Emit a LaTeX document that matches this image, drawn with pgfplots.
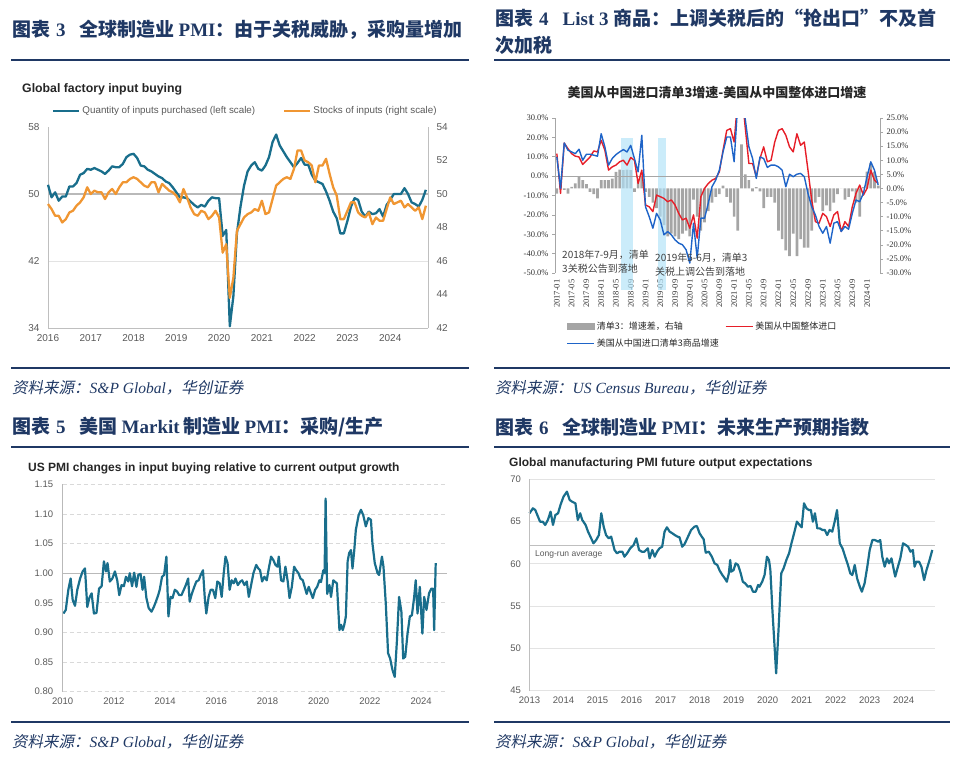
\documentclass[border=0pt]{standalone}
\usepackage{fontspec}
\usepackage{pgfplots}
\pgfplotsset{compat=1.18}
\setmainfont{Liberation Serif}
\setsansfont{Liberation Sans}
\newfontfamily\cjk{Noto Sans CJK SC}
\newfontfamily\cjkit{Noto Sans CJK SC}[FakeSlant=0.2]
\definecolor{hcnavy}{RGB}{31,56,100}
\definecolor{teal1}{RGB}{25,110,140}
\definecolor{orange1}{RGB}{240,150,50}
\definecolor{red2}{RGB}{230,30,40}
\definecolor{blue2}{RGB}{30,100,200}
\definecolor{bar2}{RGB}{165,165,165}
\definecolor{shade2}{RGB}{175,226,248}
\definecolor{tickgray}{RGB}{89,89,89}
\definecolor{titleblk}{RGB}{38,38,38}
\begin{document}
\begin{tikzpicture}
\path[use as bounding box] (0pt,0pt) rectangle (960pt,-760pt);
% ---------- rules ----------
\foreach \yy in {60,368,447,722} {
  \draw[hcnavy, line width=1.6pt] (11pt,-\yy*1pt) -- (469pt,-\yy*1pt);
  \draw[hcnavy, line width=1.6pt] (494pt,-\yy*1pt) -- (950pt,-\yy*1pt);
}
% ---------- headers ----------
\node[anchor=west, inner sep=0pt, text=hcnavy, font=\fontsize{19}{23}\selectfont] at (12pt,-30pt)
 {{\cjk\bfseries 图表}\hspace{6pt}{\bfseries 3}\hspace{14pt}{\cjk\bfseries 全球制造业}\hspace{4pt}{\bfseries PMI}{\cjk\bfseries ：由于关税威胁，采购量增加}};
\node[anchor=west, inner sep=0pt, text=hcnavy, font=\fontsize{19}{23}\selectfont] at (495pt,-18pt)
 {{\cjk\bfseries 图表}\hspace{6pt}{\bfseries 4}\hspace{14pt}{\bfseries List 3 }{\cjk\bfseries 商品：上调关税后的“抢出口”不及首}};
\node[anchor=west, inner sep=0pt, text=hcnavy, font=\fontsize{19}{23}\selectfont] at (495pt,-45pt)
 {{\cjk\bfseries 次加税}};
\node[anchor=west, inner sep=0pt, text=hcnavy, font=\fontsize{19}{23}\selectfont] at (12pt,-427pt)
 {{\cjk\bfseries 图表}\hspace{6pt}{\bfseries 5}\hspace{14pt}{\cjk\bfseries 美国}\hspace{4pt}{\bfseries Markit}\hspace{4pt}{\cjk\bfseries 制造业}\hspace{4pt}{\bfseries PMI}{\cjk\bfseries ：采购/生产}};
\node[anchor=west, inner sep=0pt, text=hcnavy, font=\fontsize{19}{23}\selectfont] at (495pt,-427pt)
 {{\cjk\bfseries 图表}\hspace{6pt}{\bfseries 6}\hspace{14pt}{\cjk\bfseries 全球制造业}\hspace{4pt}{\bfseries PMI}{\cjk\bfseries ：未来生产预期指数}};
% ---------- sources ----------
\node[anchor=west, inner sep=0pt, text=hcnavy, font=\fontsize{15.5}{18}\selectfont] at (12pt,-388pt)
 {{\cjkit 资料来源：}{\itshape S\&P Global}{\cjkit ，华创证券}};
\node[anchor=west, inner sep=0pt, text=hcnavy, font=\fontsize{15.5}{18}\selectfont] at (495pt,-388pt)
 {{\cjkit 资料来源：}{\itshape US Census Bureau}{\cjkit ，华创证券}};
\node[anchor=west, inner sep=0pt, text=hcnavy, font=\fontsize{15.5}{18}\selectfont] at (12pt,-742pt)
 {{\cjkit 资料来源：}{\itshape S\&P Global}{\cjkit ，华创证券}};
\node[anchor=west, inner sep=0pt, text=hcnavy, font=\fontsize{15.5}{18}\selectfont] at (495pt,-742pt)
 {{\cjkit 资料来源：}{\itshape S\&P Global}{\cjkit ，华创证券}};

% =================== PANEL 1 ===================
\node[anchor=west, inner sep=0pt, text=titleblk, font=\fontsize{12.3}{14}\selectfont\sffamily\bfseries] at (22pt,-89pt) {Global factory input buying};
\begin{axis}[at={(48pt,-328pt)}, anchor=south west, scale only axis, width=380pt, height=201pt,
  xmin=0, xmax=106.6, ymin=34, ymax=58, clip=false,
  axis line style={draw=none}, major tick length=0pt,
  xtick={0,12,24,36,48,60,72,84,96}, xticklabels={2016,2017,2018,2019,2020,2021,2022,2023,2024},
  ytick={34,42,50,58}, ytick pos=left,
  tick label style={font=\fontsize{10}{12}\selectfont\sffamily, text=tickgray},
  yticklabel style={xshift=-5pt}, xticklabel style={yshift=-3pt},
  /pgf/number format/assume math mode=true]
\draw[gray!22, line width=0.8pt] (axis cs:0,42) -- (axis cs:106.6,42);
\draw[gray!55, line width=1.3pt] (axis cs:0,50) -- (axis cs:106.6,50);
\draw[gray!50, line width=1pt] (rel axis cs:0,0) -- (rel axis cs:0,1);
\draw[gray!50, line width=1pt] (rel axis cs:0,0) -- (rel axis cs:1,0);
\draw[gray!50, line width=1pt] (rel axis cs:1,0) -- (rel axis cs:1,1);
\addplot[teal1, line width=2.3pt, line join=round] coordinates {
(0,51.1) (1,49.6) (2,50.2) (3,49.2) (4,49.7) (5,49.7) (6,50.9) (7,50.9) (8,51.3) (9,52.3)
(10,52.5) (11,53.0) (12,52.9) (13,53.1) (14,52.9) (15,52.7) (16,52.4) (17,52.8) (18,53.3) (19,53.2)
(20,53.2) (21,53.6) (22,54.4) (23,54.7) (24,54.8) (25,54.3) (26,53.4) (27,53.3) (28,52.9) (29,52.7)
(30,52.4) (31,52.1) (32,51.9) (33,51.5) (34,51.3) (35,50.8) (36,50.2) (37,49.6) (38,49.6) (39,49.5)
(40,49.1) (41,48.7) (42,48.4) (43,48.7) (44,48.5) (45,49.2) (46,49.6) (47,49.5) (48,49.5) (49,45.0)
(50,45.7) (51,34.2) (52,37.8) (53,45.3) (54,48.5) (55,51.0) (56,52.7) (57,53.4) (58,53.8) (59,53.0)
(60,52.8) (61,53.4) (62,54.4) (63,56.2) (64,57.1) (65,55.8) (66,55.1) (67,54.4) (68,53.8) (69,53.2)
(70,53.7) (71,54.3) (72,53.5) (73,53.5) (74,52.3) (75,51.6) (76,51.4) (77,51.2) (78,50.3) (79,49.2)
(80,47.9) (81,47.1) (82,45.3) (83,45.3) (84,46.8) (85,48.5) (86,49.5) (87,49.3) (88,47.9) (89,47.3)
(90,47.9) (91,47.6) (92,47.7) (93,48.2) (94,47.3) (95,48.7) (96,49.3) (97,50.0) (98,50.0) (99,50.0)
(100,50.7) (101,50.0) (102,49.0) (103,48.8) (104,48.5) (105,49.3) (106,50.5)};
\end{axis}
\begin{axis}[at={(48pt,-328pt)}, anchor=south west, scale only axis, width=380pt, height=201pt,
  xmin=0, xmax=106.6, ymin=42, ymax=54, clip=false,
  axis line style={draw=none}, major tick length=0pt,
  xtick=\empty, ytick={42,44,46,48,50,52,54}, ytick pos=right, yticklabel pos=right,
  tick label style={font=\fontsize{10}{12}\selectfont\sffamily, text=tickgray},
  yticklabel style={xshift=5pt},
  /pgf/number format/assume math mode=true,
  legend columns=2, legend cell align=left,
  legend image code/.code={\draw[#1] (0pt,0pt) -- (26pt,0pt);},
  legend style={draw=none, fill=none, at={(0.01,1.08)}, anchor=west, inner sep=0pt,
    font=\fontsize{9.8}{11}\selectfont\sffamily, text=tickgray,
    /tikz/every even column/.append style={column sep=26pt}}]
\addlegendimage{teal1, line width=2.5pt}
\addlegendentry{Quantity of inputs purchased (left scale)}
\addplot[orange1, line width=2.3pt, line join=round] coordinates {
(0,49.4) (1,49.1) (2,48.7) (3,48.7) (4,48.3) (5,48.5) (6,48.9) (7,49.0) (8,49.3) (9,49.5)
(10,49.8) (11,50.4) (12,50.0) (13,50.2) (14,50.1) (15,50.1) (16,49.7) (17,50.1) (18,50.3) (19,50.0)
(20,50.4) (21,50.7) (22,50.7) (23,50.9) (24,51.0) (25,50.9) (26,50.7) (27,50.5) (28,50.4) (29,50.7)
(30,50.7) (31,50.1) (32,50.6) (33,50.4) (34,50.2) (35,50.1) (36,49.9) (37,49.5) (38,50.3) (39,49.8)
(40,49.2) (41,48.8) (42,48.7) (43,49.0) (44,48.9) (45,48.5) (46,48.7) (47,49.0) (48,48.6) (49,46.5)
(50,47.0) (51,43.8) (52,45.0) (53,47.8) (54,48.2) (55,48.6) (56,48.8) (57,48.9) (58,49.1) (59,49.0)
(60,49.6) (61,48.8) (62,48.9) (63,49.7) (64,50.5) (65,50.7) (66,50.9) (67,51.0) (68,50.9) (69,51.5)
(70,52.6) (71,52.6) (72,52.0) (73,51.9) (74,51.7) (75,50.7) (76,51.7) (77,51.7) (78,52.1) (79,51.2)
(80,50.4) (81,49.9) (82,48.5) (83,48.5) (84,49.0) (85,49.5) (86,49.5) (87,48.9) (88,48.7) (89,48.6)
(90,48.9) (91,48.2) (92,48.6) (93,48.4) (94,48.4) (95,49.1) (96,49.8) (97,49.4) (98,49.5) (99,49.6)
(100,49.2) (101,49.4) (102,49.2) (103,49.0) (104,49.2) (105,48.5) (106,49.3)};
\addlegendentry{Stocks of inputs (right scale)}
\end{axis}

% =================== PANEL 2 ===================
\node[inner sep=0pt, font=\cjk\bfseries\fontsize{13}{15}\selectfont, text=black!85] at (717pt,-93pt) {美国从中国进口清单3增速-美国从中国整体进口增速};
\begin{axis}[at={(555pt,-273pt)}, anchor=south west, scale only axis, width=325pt, height=155pt,
  xmin=-0.5, xmax=87.5, ymin=-30, ymax=25, clip=false,
  axis line style={draw=none},
  xtick={0,4,...,84},
  xticklabels={2017-01,2017-05,2017-09,2018-01,2018-05,2018-09,2019-01,2019-05,2019-09,2020-01,2020-05,2020-09,2021-01,2021-05,2021-09,2022-01,2022-05,2022-09,2023-01,2023-05,2023-09,2024-01},
  xtick style={draw=none}, xtick pos=bottom,
  xticklabel style={rotate=90, anchor=east, font=\fontsize{8.5}{10}\selectfont, text=black!80},
  ytick={-30,-25,...,25},
  yticklabels={-30.0\%,-25.0\%,-20.0\%,-15.0\%,-10.0\%,-5.0\%,0.0\%,5.0\%,10.0\%,15.0\%,20.0\%,25.0\%},
  ytick pos=right, yticklabel pos=right, tick align=outside, major tick length=3pt,
  ytick style={gray!70, line width=0.6pt},
  yticklabel style={font=\fontsize{8.5}{10}\selectfont, text=black!80}]
\addplot[ybar, bar width=2.7pt, fill=bar2, draw=none] coordinates {
(0,-1.8) (1,3.0) (2,-0.5) (3,-1.8) (4,0.6) (5,1.8) (6,4.4) (7,3.0) (8,1.5) (9,-1.2)
(10,-2.0) (11,-3.5) (12,3.0) (13,3.0) (14,3.0) (15,3.5) (16,5.9) (17,6.7) (18,6.5) (19,6.7)
(20,6.5) (21,-1.2) (22,3.0) (23,4.0) (24,-1.2) (25,-3.0) (26,-5.0) (27,-7.0) (28,-10.0) (29,-13.0)
(30,-17.0) (31,-16.0) (32,-17.0) (33,-18.0) (34,-16.0) (35,-15.0) (36,-17.0) (37,-4.0) (38,-10.0) (39,-15.0)
(40,-12.0) (41,-8.0) (42,-5.0) (43,-3.0) (44,-2.0) (45,1.0) (46,-3.0) (47,-5.0) (48,-10.0) (49,-15.0)
(50,15.6) (51,5.0) (52,3.0) (53,-1.0) (54,0.5) (55,-1.0) (56,-7.0) (57,-3.0) (58,-3.0) (59,-5.0)
(60,-15.0) (61,-18.0) (62,-22.0) (63,-24.0) (64,-16.0) (65,-24.0) (66,-18.0) (67,-21.0) (68,-21.0) (69,-15.0)
(70,-5.0) (71,-3.0) (72,-8.0) (73,-6.0) (74,-8.0) (75,-5.0) (76,-2.0) (77,0.0) (78,-4.0) (79,-3.0)
(80,-1.0) (81,-5.0) (82,-10.0) (83,0.5) (84,6.0) (85,9.0) (86,6.0) (87,1.0)};
\fill[shade2, fill opacity=0.65] (axis cs:17.5,17.9) rectangle (axis cs:20.5,-36);
\fill[shade2, fill opacity=0.65] (axis cs:27.5,17.9) rectangle (axis cs:29.5,-36);
\end{axis}
\begin{axis}[at={(555pt,-273pt)}, anchor=south west, scale only axis, width=325pt, height=155pt,
  xmin=-0.5, xmax=87.5, ymin=-50, ymax=30,
  axis line style={draw=none}, xtick=\empty,
  ytick={-50,-40,...,30},
  yticklabels={-50.0\%,-40.0\%,-30.0\%,-20.0\%,-10.0\%,0.0\%,10.0\%,20.0\%,30.0\%},
  ytick pos=left, tick align=outside, major tick length=3pt,
  ytick style={gray!70, line width=0.6pt},
  yticklabel style={font=\fontsize{8.5}{10}\selectfont, text=black!80},
  legend columns=2, legend cell align=left,
  legend image code/.code={\draw[#1] (0pt,0pt) -- (27pt,0pt);},
  legend style={draw=none, fill=none, at={(0.035,-0.30)}, anchor=north west, inner sep=0pt,
    font=\cjk\fontsize{9}{11}\selectfont, text=black!85, row sep=4pt,
    /tikz/every even column/.append style={column sep=4pt}}]
\draw[gray!70, line width=0.8pt] (axis cs:-0.5,0) -- (axis cs:87.5,0);
\addlegendimage{legend image code/.code={\fill[bar2] (0pt,-3pt) rectangle (27pt,3pt);}}
\addlegendentry{清单3：增速差，右轴}
\addplot[red2, line width=1.4pt, line join=round] coordinates {
(0,11.6) (1,-8.9) (2,17.1) (3,14.2) (4,11.6) (5,10.3) (6,9.9) (7,6.0) (8,7.9) (9,9.9)
(10,13.0) (11,12.5) (12,18.5) (13,13.4) (14,3.1) (15,4.8) (16,5.7) (17,7.4) (18,8.2) (19,5.7)
(20,9.6) (21,8.2) (22,-3.8) (23,3.1) (24,-14.9) (25,-15.8) (26,-18.3) (27,-9.8) (28,-10.6) (29,-11.5)
(30,-13.2) (31,-12.3) (32,-14.9) (33,-19.2) (34,-22.6) (35,-21.7) (36,-26.9) (37,-20.0) (38,-32.0) (39,-10.6)
(40,-6.3) (41,-3.8) (42,-2.1) (43,-1.2) (44,2.2) (45,13.4) (46,23.6) (47,24.5) (48,17.6) (49,40.0)
(50,45.0) (51,25.3) (52,6.5) (53,6.5) (54,-0.3) (55,9.1) (56,15.1) (57,7.4) (58,8.2) (59,17.6)
(60,23.6) (61,24.5) (62,21.1) (63,15.1) (64,12.5) (65,21.9) (66,15.9) (67,17.6) (68,3.1) (69,-12.3)
(70,-23.5) (71,-24.3) (72,-19.2) (73,-20.9) (74,-26.0) (75,-20.0) (76,-18.3) (77,-28.6) (78,-23.5) (79,-26.0)
(80,-15.8) (81,-8.9) (82,-4.6) (83,-9.8) (84,-6.3) (85,3.1) (86,-2.1) (87,-3.8)};
\addlegendentry{美国从中国整体进口}
\addplot[blue2, line width=1.4pt, line join=round] coordinates {
(0,9.9) (1,-6.3) (2,17.1) (3,13.4) (4,12.5) (5,11.6) (6,13.9) (7,8.2) (8,11.3) (9,11.3)
(10,10.8) (11,10.3) (12,21.9) (13,15.1) (14,5.7) (15,9.1) (16,11.1) (17,12.5) (18,13.7) (19,12.5)
(20,15.9) (21,9.1) (22,2.2) (23,21.1) (24,-15.8) (25,-20.9) (26,-26.9) (27,-19.2) (28,-22.6) (29,-30.3)
(30,-28.6) (31,-30.3) (32,-32.9) (33,-34.6) (34,-35.4) (35,-38.0) (36,-44.9) (37,-24.3) (38,-42.3) (39,-21.7)
(40,-21.7) (41,-14.0) (42,-5.5) (43,-2.1) (44,3.1) (45,12.5) (46,20.2) (47,20.2) (48,7.4) (49,38.0)
(50,42.0) (51,29.6) (52,15.1) (53,9.1) (54,-1.2) (55,9.9) (56,9.1) (57,4.5) (58,5.7) (59,5.7)
(60,4.8) (61,3.1) (62,-5.5) (63,1.0) (64,-0.3) (65,1.0) (66,1.4) (67,-0.3) (68,-8.9) (69,-15.8)
(70,-20.0) (71,-26.0) (72,-29.5) (73,-26.0) (74,-34.6) (75,-24.3) (76,-23.5) (77,-28.6) (78,-26.0) (79,-27.4)
(80,-19.2) (81,-12.3) (82,-13.2) (83,-8.9) (84,-0.3) (85,7.4) (86,3.1) (87,-4.6)};
\addlegendentry{美国从中国进口清单3商品增速}
\end{axis}
\draw[gray!70, line width=0.7pt] (555pt,-118pt) -- (555pt,-273pt);
\draw[gray!70, line width=0.7pt] (880pt,-118pt) -- (880pt,-273pt);
\node[anchor=west, inner sep=0pt, font=\cjk\fontsize{10}{12}\selectfont, text=black!75] at (562pt,-255pt) {2018年7-9月，清单};
\node[anchor=west, inner sep=0pt, font=\cjk\fontsize{10}{12}\selectfont, text=black!75] at (562pt,-269pt) {3关税公告到落地};
\node[anchor=west, inner sep=0pt, font=\cjk\fontsize{10}{12}\selectfont, text=black!75] at (655pt,-258pt) {2019年5-6月，清单3};
\node[anchor=west, inner sep=0pt, font=\cjk\fontsize{10}{12}\selectfont, text=black!75] at (655pt,-272pt) {关税上调公告到落地};

% =================== PANEL 3 ===================
\node[anchor=west, inner sep=0pt, text=titleblk, font=\fontsize{12}{14}\selectfont\sffamily\bfseries] at (28pt,-468pt) {US PMI changes in input buying relative to current output growth};
\begin{axis}[at={(62.7pt,-691.7pt)}, anchor=south west, scale only axis, width=384pt, height=207.4pt,
  xmin=2010, xmax=2025, ymin=0.8, ymax=1.15, clip=false,
  axis line style={draw=none}, major tick length=0pt,
  xtick={2010,2012,2014,2016,2018,2020,2022,2024}, xticklabels={2010,2012,2014,2016,2018,2020,2022,2024},
  ytick={0.8,0.85,0.9,0.95,1.05,1.1,1.15}, extra y ticks={1},
  ymajorgrids, grid style={gray!30, dash pattern=on 4pt off 3pt, line width=0.8pt},
  extra y tick style={grid=major, grid style={solid, gray!55, line width=1.1pt}},
  tick label style={font=\fontsize{9.5}{11}\selectfont\sffamily, text=tickgray},
  yticklabel style={xshift=-6pt}, xticklabel style={yshift=-3pt},
  /pgf/number format/fixed, /pgf/number format/fixed zerofill, /pgf/number format/precision=2,
  /pgf/number format/assume math mode=true]
\addplot[teal1, line width=2.2pt, line join=round] coordinates {
(2010.03,0.932) (2010.12,0.938) (2010.22,0.972) (2010.31,0.991) (2010.39,0.955) (2010.48,0.945)
(2010.57,0.972) (2010.68,0.991) (2010.78,1.003) (2010.87,1.008) (2010.96,0.943) (2011.04,0.958)
(2011.13,0.966) (2011.22,0.932) (2011.32,0.933) (2011.42,0.974) (2011.52,0.978) (2011.61,1.020)
(2011.69,1.003) (2011.75,1.017) (2011.84,0.986) (2011.94,0.991) (2012.04,1.003) (2012.13,0.988)
(2012.21,0.963) (2012.30,0.980) (2012.39,0.978) (2012.47,0.994) (2012.56,0.986) (2012.62,1.000)
(2012.71,0.978) (2012.79,1.001) (2012.88,0.977) (2012.95,0.997) (2013.04,0.999) (2013.12,0.972)
(2013.18,0.994) (2013.27,0.958) (2013.36,0.941) (2013.47,0.935) (2013.56,0.943) (2013.64,0.952)
(2013.73,0.963) (2013.79,0.972) (2013.88,0.994) (2013.96,0.997) (2014.05,1.028) (2014.13,0.927)
(2014.21,0.960) (2014.29,0.958) (2014.38,0.972) (2014.47,0.969) (2014.55,0.963) (2014.64,0.963)
(2014.73,0.972) (2014.81,0.980) (2014.90,0.991) (2014.96,0.952) (2015.05,0.966) (2015.14,0.977)
(2015.22,0.986) (2015.31,0.988) (2015.39,0.997) (2015.48,1.005) (2015.55,0.958) (2015.61,0.932)
(2015.70,0.960) (2015.78,0.972) (2015.87,0.972) (2015.96,0.958) (2016.04,0.986) (2016.13,0.983)
(2016.21,0.960) (2016.29,1.000) (2016.36,1.028) (2016.44,1.017) (2016.52,0.972) (2016.60,0.988)
(2016.68,0.983) (2016.75,0.991) (2016.84,0.980) (2016.94,0.986) (2017.01,0.988) (2017.10,0.980)
(2017.19,0.986) (2017.27,0.960) (2017.36,0.980) (2017.45,1.000) (2017.56,1.014) (2017.64,1.008)
(2017.71,1.005) (2017.79,0.986) (2017.88,0.994) (2017.97,0.988) (2018.05,1.008) (2018.14,1.028)
(2018.23,1.022) (2018.31,1.014) (2018.39,1.011) (2018.44,1.028) (2018.53,0.988) (2018.62,0.986)
(2018.70,1.011) (2018.79,0.986) (2018.86,0.958) (2018.95,0.977) (2019.04,1.011) (2019.12,1.005)
(2019.21,1.000) (2019.29,0.991) (2019.38,0.988) (2019.47,0.974) (2019.53,0.965) (2019.61,0.977)
(2019.70,0.966) (2019.77,0.958) (2019.86,0.972) (2019.94,0.977) (2020.03,0.988) (2020.09,0.985)
(2020.18,1.005) (2020.23,1.000) (2020.27,1.126) (2020.33,0.965) (2020.42,0.980) (2020.48,0.960)
(2020.57,0.988) (2020.65,0.985) (2020.71,0.983) (2020.81,0.904) (2020.87,0.913) (2020.94,0.904)
(2021.00,0.913) (2021.06,0.927) (2021.13,1.020) (2021.19,1.034) (2021.26,1.039) (2021.32,1.008)
(2021.39,1.039) (2021.45,1.073) (2021.56,1.098) (2021.65,1.107) (2021.74,1.098) (2021.84,1.079)
(2021.94,1.093) (2022.04,1.090) (2022.10,1.050) (2022.19,1.017) (2022.30,1.000) (2022.36,0.997)
(2022.47,1.028) (2022.53,1.011) (2022.62,0.949) (2022.71,0.865) (2022.79,0.856) (2022.88,0.837)
(2022.97,0.825) (2023.05,0.882) (2023.14,0.960) (2023.23,0.935) (2023.30,0.856) (2023.38,0.859)
(2023.47,0.898) (2023.56,0.927) (2023.64,0.929) (2023.73,0.960) (2023.79,0.988) (2023.86,0.932)
(2023.95,0.977) (2024.05,0.898) (2024.12,0.960) (2024.21,0.938) (2024.31,0.966) (2024.40,0.974)
(2024.47,0.974) (2024.51,0.904) (2024.57,1.017)};
\end{axis}
\draw[gray!55, line width=1pt] (62.7pt,-484.3pt) -- (62.7pt,-691.7pt);

% =================== PANEL 4 ===================
\node[anchor=west, inner sep=0pt, text=titleblk, font=\fontsize{12}{14}\selectfont\sffamily\bfseries] at (509pt,-463pt) {Global manufacturing PMI future output expectations};
\begin{axis}[at={(529.5pt,-690.7pt)}, anchor=south west, scale only axis, width=405.5pt, height=211.4pt,
  xmin=2013, xmax=2024.92, ymin=45, ymax=70, clip=false,
  axis line style={draw=none}, major tick length=0pt,
  xtick={2013,2014,2015,2016,2017,2018,2019,2020,2021,2022,2023,2024},
  xticklabels={2013,2014,2015,2016,2017,2018,2019,2020,2021,2022,2023,2024},
  ytick={45,50,55,60,65,70},
  ymajorgrids, grid style={gray!22, line width=0.8pt},
  tick label style={font=\fontsize{9.5}{11}\selectfont\sffamily, text=tickgray},
  yticklabel style={xshift=-5pt}, xticklabel style={yshift=-3pt},
  /pgf/number format/assume math mode=true]
\draw[gray!50, line width=1.2pt] (axis cs:2013,62.2) -- (axis cs:2024.92,62.2);
\addplot[teal1, line width=2.2pt, line join=round] coordinates {
(2013.00,65.98) (2013.10,66.57) (2013.17,66.37) (2013.25,65.58) (2013.31,64.99) (2013.39,64.99)
(2013.46,64.60) (2013.54,65.19) (2013.62,66.18) (2013.69,64.60) (2013.76,65.78) (2013.84,65.98)
(2013.91,66.96) (2014.00,67.95) (2014.10,68.54) (2014.18,67.56) (2014.25,67.36) (2014.35,67.16)
(2014.42,65.19) (2014.49,65.98) (2014.55,65.19) (2014.65,64.60) (2014.72,63.81) (2014.79,63.22)
(2014.88,62.43) (2014.96,62.82) (2015.04,63.41) (2015.11,65.98) (2015.18,64.40) (2015.25,63.41)
(2015.33,63.02) (2015.40,63.22) (2015.50,61.64) (2015.57,61.25) (2015.65,61.44) (2015.73,61.44)
(2015.79,60.85) (2015.87,61.25) (2015.96,61.84) (2016.06,62.23) (2016.14,63.02) (2016.22,61.64)
(2016.30,61.44) (2016.38,61.44) (2016.48,61.84) (2016.53,60.65) (2016.61,61.64) (2016.68,60.85)
(2016.75,61.44) (2016.82,61.84) (2016.90,62.03) (2016.97,63.81) (2017.04,64.32) (2017.12,63.81)
(2017.20,63.61) (2017.27,63.41) (2017.35,63.22) (2017.41,63.14) (2017.49,62.03) (2017.56,62.35)
(2017.66,63.22) (2017.75,64.01) (2017.85,64.40) (2017.92,64.48) (2018.00,63.61) (2018.05,63.30)
(2018.12,62.90) (2018.18,61.32) (2018.27,61.44) (2018.36,60.85) (2018.44,60.06) (2018.52,59.87)
(2018.59,59.20) (2018.67,58.68) (2018.74,58.29) (2018.80,57.89) (2018.86,58.88) (2018.90,60.46)
(2018.93,59.08) (2019.00,59.27) (2019.06,60.06) (2019.13,59.87) (2019.21,58.88) (2019.27,57.89)
(2019.34,57.70) (2019.42,57.30) (2019.50,57.38) (2019.57,56.71) (2019.65,56.71) (2019.72,57.50)
(2019.76,57.30) (2019.84,57.89) (2019.91,58.68) (2019.98,60.85) (2020.04,60.46) (2020.08,59.27)
(2020.14,54.54) (2020.21,49.81) (2020.25,47.05) (2020.32,52.18) (2020.40,58.88) (2020.47,59.47)
(2020.55,60.46) (2020.63,61.25) (2020.70,62.43) (2020.79,63.81) (2020.86,64.99) (2020.94,64.60)
(2021.00,64.32) (2021.07,67.16) (2021.14,66.57) (2021.21,66.37) (2021.27,66.37) (2021.33,64.99)
(2021.39,65.98) (2021.46,64.20) (2021.53,64.20) (2021.61,64.01) (2021.68,64.01) (2021.75,63.41)
(2021.82,64.01) (2021.90,63.81) (2021.97,64.99) (2022.04,66.37) (2022.12,62.43) (2022.20,61.84)
(2022.28,60.85) (2022.36,59.87) (2022.43,58.88) (2022.49,58.68) (2022.56,59.87) (2022.63,58.29)
(2022.71,57.30) (2022.77,56.71) (2022.85,57.70) (2022.93,59.67) (2023.00,61.64) (2023.08,62.82)
(2023.15,62.82) (2023.25,62.63) (2023.31,62.82) (2023.37,60.85) (2023.44,59.67) (2023.51,60.65)
(2023.57,60.06) (2023.64,60.65) (2023.69,59.67) (2023.75,58.49) (2023.83,59.67) (2023.90,60.65)
(2023.98,62.43) (2024.06,62.23) (2024.13,62.03) (2024.20,61.44) (2024.27,61.64) (2024.32,59.67)
(2024.37,60.26) (2024.45,60.26) (2024.52,59.67) (2024.60,58.09) (2024.67,59.27) (2024.76,60.46)
(2024.84,61.64)};
\end{axis}
\draw[gray!50, line width=1pt] (529.5pt,-479.3pt) -- (529.5pt,-690.7pt);
\node[anchor=west, inner sep=0pt, font=\fontsize{8.5}{10}\selectfont\sffamily, text=tickgray] at (535pt,-554pt) {Long-run average};
\end{tikzpicture}
\end{document}
